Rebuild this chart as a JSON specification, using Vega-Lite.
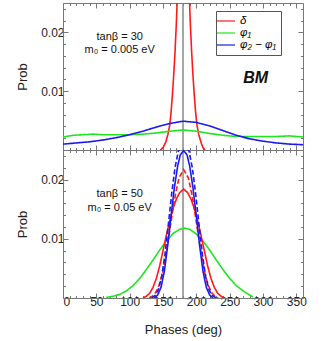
{
  "$schema": "https://vega.github.io/schema/vega-lite/v6.json",
  "padding": {"left": 16, "top": 2, "right": 5, "bottom": 3},
  "config": {
    "font": "Liberation Sans",
    "view": {"stroke": null},
    "axis": {"grid": false, "domainColor": "#777", "tickColor": "#777", "labelColor": "#222", "titleColor": "#222", "titleFontWeight": "normal", "labelFontSize": 12, "titleFontSize": 13, "labelOverlap": false}
  },
  "spacing": 0,
  "bounds": "flush",
  "resolve": {"scale": {"color": "independent", "strokeDash": "independent"}, "legend": {"color": "independent", "strokeDash": "independent"}},
  "datasets": {
    "top": [
      {"deg":146,"prob":0,"series":"δ","style":"solid"},
      {"deg":150,"prob":0.0004,"series":"δ","style":"solid"},
      {"deg":154,"prob":0.0013,"series":"δ","style":"solid"},
      {"deg":157.5,"prob":0.0027,"series":"δ","style":"solid"},
      {"deg":160,"prob":0.0042,"series":"δ","style":"solid"},
      {"deg":162,"prob":0.0063,"series":"δ","style":"solid"},
      {"deg":164,"prob":0.0092,"series":"δ","style":"solid"},
      {"deg":166,"prob":0.0126,"series":"δ","style":"solid"},
      {"deg":168,"prob":0.0166,"series":"δ","style":"solid"},
      {"deg":170,"prob":0.0215,"series":"δ","style":"solid"},
      {"deg":172,"prob":0.0275,"series":"δ","style":"solid"},
      {"deg":175,"prob":0.036,"series":"δ","style":"solid"},
      {"deg":180.5,"prob":0.042,"series":"δ","style":"solid"},
      {"deg":186,"prob":0.036,"series":"δ","style":"solid"},
      {"deg":189,"prob":0.0275,"series":"δ","style":"solid"},
      {"deg":191,"prob":0.0215,"series":"δ","style":"solid"},
      {"deg":193,"prob":0.0166,"series":"δ","style":"solid"},
      {"deg":195,"prob":0.0126,"series":"δ","style":"solid"},
      {"deg":197,"prob":0.0092,"series":"δ","style":"solid"},
      {"deg":199,"prob":0.0063,"series":"δ","style":"solid"},
      {"deg":201,"prob":0.0042,"series":"δ","style":"solid"},
      {"deg":203.5,"prob":0.0027,"series":"δ","style":"solid"},
      {"deg":207,"prob":0.0013,"series":"δ","style":"solid"},
      {"deg":210,"prob":0.0004,"series":"δ","style":"solid"},
      {"deg":213,"prob":0,"series":"δ","style":"solid"},
      {"deg":0,"prob":0.0022,"series":"φ₁","style":"solid"},
      {"deg":15,"prob":0.0025,"series":"φ₁","style":"solid"},
      {"deg":30,"prob":0.0026,"series":"φ₁","style":"solid"},
      {"deg":45,"prob":0.0027,"series":"φ₁","style":"solid"},
      {"deg":60,"prob":0.0026,"series":"φ₁","style":"solid"},
      {"deg":80,"prob":0.0026,"series":"φ₁","style":"solid"},
      {"deg":100,"prob":0.0026,"series":"φ₁","style":"solid"},
      {"deg":120,"prob":0.0027,"series":"φ₁","style":"solid"},
      {"deg":140,"prob":0.0029,"series":"φ₁","style":"solid"},
      {"deg":160,"prob":0.0032,"series":"φ₁","style":"solid"},
      {"deg":180,"prob":0.0034,"series":"φ₁","style":"solid"},
      {"deg":200,"prob":0.0032,"series":"φ₁","style":"solid"},
      {"deg":220,"prob":0.0028,"series":"φ₁","style":"solid"},
      {"deg":240,"prob":0.0025,"series":"φ₁","style":"solid"},
      {"deg":260,"prob":0.0023,"series":"φ₁","style":"solid"},
      {"deg":280,"prob":0.0023,"series":"φ₁","style":"solid"},
      {"deg":300,"prob":0.0023,"series":"φ₁","style":"solid"},
      {"deg":320,"prob":0.0023,"series":"φ₁","style":"solid"},
      {"deg":340,"prob":0.0024,"series":"φ₁","style":"solid"},
      {"deg":360,"prob":0.0022,"series":"φ₁","style":"solid"},
      {"deg":0,"prob":0.0010,"series":"φ₂ − φ₁","style":"solid"},
      {"deg":20,"prob":0.0012,"series":"φ₂ − φ₁","style":"solid"},
      {"deg":40,"prob":0.0014,"series":"φ₂ − φ₁","style":"solid"},
      {"deg":60,"prob":0.0017,"series":"φ₂ − φ₁","style":"solid"},
      {"deg":80,"prob":0.0021,"series":"φ₂ − φ₁","style":"solid"},
      {"deg":100,"prob":0.0026,"series":"φ₂ − φ₁","style":"solid"},
      {"deg":120,"prob":0.0032,"series":"φ₂ − φ₁","style":"solid"},
      {"deg":140,"prob":0.0039,"series":"φ₂ − φ₁","style":"solid"},
      {"deg":160,"prob":0.0045,"series":"φ₂ − φ₁","style":"solid"},
      {"deg":180,"prob":0.0049,"series":"φ₂ − φ₁","style":"solid"},
      {"deg":200,"prob":0.0047,"series":"φ₂ − φ₁","style":"solid"},
      {"deg":220,"prob":0.0041,"series":"φ₂ − φ₁","style":"solid"},
      {"deg":240,"prob":0.0033,"series":"φ₂ − φ₁","style":"solid"},
      {"deg":260,"prob":0.0025,"series":"φ₂ − φ₁","style":"solid"},
      {"deg":280,"prob":0.0019,"series":"φ₂ − φ₁","style":"solid"},
      {"deg":300,"prob":0.0015,"series":"φ₂ − φ₁","style":"solid"},
      {"deg":320,"prob":0.0012,"series":"φ₂ − φ₁","style":"solid"},
      {"deg":340,"prob":0.0010,"series":"φ₂ − φ₁","style":"solid"},
      {"deg":360,"prob":0.0009,"series":"φ₂ − φ₁","style":"solid"}
    ],
    "bottom": [
      {"deg":65,"prob":0.0001,"series":"φ₁","style":"solid"},
      {"deg":75,"prob":0.0003,"series":"φ₁","style":"solid"},
      {"deg":85,"prob":0.0006,"series":"φ₁","style":"solid"},
      {"deg":95,"prob":0.0012,"series":"φ₁","style":"solid"},
      {"deg":105,"prob":0.0021,"series":"φ₁","style":"solid"},
      {"deg":115,"prob":0.0033,"series":"φ₁","style":"solid"},
      {"deg":125,"prob":0.0048,"series":"φ₁","style":"solid"},
      {"deg":135,"prob":0.0064,"series":"φ₁","style":"solid"},
      {"deg":145,"prob":0.0081,"series":"φ₁","style":"solid"},
      {"deg":155,"prob":0.0096,"series":"φ₁","style":"solid"},
      {"deg":165,"prob":0.0109,"series":"φ₁","style":"solid"},
      {"deg":175,"prob":0.0116,"series":"φ₁","style":"solid"},
      {"deg":182,"prob":0.0118,"series":"φ₁","style":"solid"},
      {"deg":190,"prob":0.0116,"series":"φ₁","style":"solid"},
      {"deg":200,"prob":0.0108,"series":"φ₁","style":"solid"},
      {"deg":210,"prob":0.0096,"series":"φ₁","style":"solid"},
      {"deg":220,"prob":0.0081,"series":"φ₁","style":"solid"},
      {"deg":230,"prob":0.0064,"series":"φ₁","style":"solid"},
      {"deg":240,"prob":0.0048,"series":"φ₁","style":"solid"},
      {"deg":250,"prob":0.0033,"series":"φ₁","style":"solid"},
      {"deg":260,"prob":0.0021,"series":"φ₁","style":"solid"},
      {"deg":270,"prob":0.0012,"series":"φ₁","style":"solid"},
      {"deg":280,"prob":0.0005,"series":"φ₁","style":"solid"},
      {"deg":285,"prob":0.0002,"series":"φ₁","style":"solid"},
      {"deg":120,"prob":0,"series":"δ","style":"solid"},
      {"deg":125,"prob":0.0003,"series":"δ","style":"solid"},
      {"deg":130,"prob":0.0008,"series":"δ","style":"solid"},
      {"deg":135,"prob":0.0018,"series":"δ","style":"solid"},
      {"deg":140,"prob":0.0033,"series":"δ","style":"solid"},
      {"deg":145,"prob":0.0054,"series":"δ","style":"solid"},
      {"deg":150,"prob":0.0080,"series":"δ","style":"solid"},
      {"deg":155,"prob":0.0106,"series":"δ","style":"solid"},
      {"deg":160,"prob":0.0130,"series":"δ","style":"solid"},
      {"deg":165,"prob":0.0151,"series":"δ","style":"solid"},
      {"deg":170,"prob":0.0167,"series":"δ","style":"solid"},
      {"deg":175,"prob":0.0178,"series":"δ","style":"solid"},
      {"deg":181,"prob":0.0184,"series":"δ","style":"solid"},
      {"deg":187,"prob":0.0178,"series":"δ","style":"solid"},
      {"deg":192,"prob":0.0167,"series":"δ","style":"solid"},
      {"deg":197,"prob":0.0151,"series":"δ","style":"solid"},
      {"deg":202,"prob":0.0130,"series":"δ","style":"solid"},
      {"deg":207,"prob":0.0106,"series":"δ","style":"solid"},
      {"deg":212,"prob":0.0080,"series":"δ","style":"solid"},
      {"deg":217,"prob":0.0054,"series":"δ","style":"solid"},
      {"deg":222,"prob":0.0033,"series":"δ","style":"solid"},
      {"deg":227,"prob":0.0018,"series":"δ","style":"solid"},
      {"deg":232,"prob":0.0008,"series":"δ","style":"solid"},
      {"deg":237,"prob":0.0003,"series":"δ","style":"solid"},
      {"deg":242,"prob":0,"series":"δ","style":"solid"},
      {"deg":129,"prob":0,"series":"δ","style":"dashed"},
      {"deg":134,"prob":0.0003,"series":"δ","style":"dashed"},
      {"deg":139,"prob":0.0009,"series":"δ","style":"dashed"},
      {"deg":144,"prob":0.0021,"series":"δ","style":"dashed"},
      {"deg":149,"prob":0.0041,"series":"δ","style":"dashed"},
      {"deg":154,"prob":0.0071,"series":"δ","style":"dashed"},
      {"deg":159,"prob":0.0106,"series":"δ","style":"dashed"},
      {"deg":164,"prob":0.0143,"series":"δ","style":"dashed"},
      {"deg":169,"prob":0.0177,"series":"δ","style":"dashed"},
      {"deg":174,"prob":0.0203,"series":"δ","style":"dashed"},
      {"deg":181,"prob":0.0217,"series":"δ","style":"dashed"},
      {"deg":188,"prob":0.0203,"series":"δ","style":"dashed"},
      {"deg":193,"prob":0.0177,"series":"δ","style":"dashed"},
      {"deg":198,"prob":0.0143,"series":"δ","style":"dashed"},
      {"deg":203,"prob":0.0106,"series":"δ","style":"dashed"},
      {"deg":208,"prob":0.0071,"series":"δ","style":"dashed"},
      {"deg":213,"prob":0.0041,"series":"δ","style":"dashed"},
      {"deg":218,"prob":0.0021,"series":"δ","style":"dashed"},
      {"deg":223,"prob":0.0009,"series":"δ","style":"dashed"},
      {"deg":228,"prob":0.0003,"series":"δ","style":"dashed"},
      {"deg":233,"prob":0,"series":"δ","style":"dashed"},
      {"deg":137,"prob":0,"series":"φ₂ − φ₁","style":"solid"},
      {"deg":142,"prob":0.0005,"series":"φ₂ − φ₁","style":"solid"},
      {"deg":147,"prob":0.0018,"series":"φ₂ − φ₁","style":"solid"},
      {"deg":152,"prob":0.0045,"series":"φ₂ − φ₁","style":"solid"},
      {"deg":157,"prob":0.0088,"series":"φ₂ − φ₁","style":"solid"},
      {"deg":162,"prob":0.0138,"series":"φ₂ − φ₁","style":"solid"},
      {"deg":167,"prob":0.0186,"series":"φ₂ − φ₁","style":"solid"},
      {"deg":172,"prob":0.0223,"series":"φ₂ − φ₁","style":"solid"},
      {"deg":176,"prob":0.0242,"series":"φ₂ − φ₁","style":"solid"},
      {"deg":181,"prob":0.0249,"series":"φ₂ − φ₁","style":"solid"},
      {"deg":186,"prob":0.0242,"series":"φ₂ − φ₁","style":"solid"},
      {"deg":190,"prob":0.0223,"series":"φ₂ − φ₁","style":"solid"},
      {"deg":195,"prob":0.0186,"series":"φ₂ − φ₁","style":"solid"},
      {"deg":200,"prob":0.0138,"series":"φ₂ − φ₁","style":"solid"},
      {"deg":205,"prob":0.0088,"series":"φ₂ − φ₁","style":"solid"},
      {"deg":210,"prob":0.0045,"series":"φ₂ − φ₁","style":"solid"},
      {"deg":215,"prob":0.0018,"series":"φ₂ − φ₁","style":"solid"},
      {"deg":220,"prob":0.0005,"series":"φ₂ − φ₁","style":"solid"},
      {"deg":225,"prob":0,"series":"φ₂ − φ₁","style":"solid"},
      {"deg":133,"prob":0,"series":"φ₂ − φ₁","style":"dashed"},
      {"deg":138,"prob":0.0004,"series":"φ₂ − φ₁","style":"dashed"},
      {"deg":143,"prob":0.0014,"series":"φ₂ − φ₁","style":"dashed"},
      {"deg":148,"prob":0.0036,"series":"φ₂ − φ₁","style":"dashed"},
      {"deg":153,"prob":0.0074,"series":"φ₂ − φ₁","style":"dashed"},
      {"deg":158,"prob":0.0124,"series":"φ₂ − φ₁","style":"dashed"},
      {"deg":163,"prob":0.0176,"series":"φ₂ − φ₁","style":"dashed"},
      {"deg":168,"prob":0.0220,"series":"φ₂ − φ₁","style":"dashed"},
      {"deg":173,"prob":0.0248,"series":"φ₂ − φ₁","style":"dashed"},
      {"deg":178,"prob":0.0258,"series":"φ₂ − φ₁","style":"dashed"},
      {"deg":184,"prob":0.0258,"series":"φ₂ − φ₁","style":"dashed"},
      {"deg":189,"prob":0.0248,"series":"φ₂ − φ₁","style":"dashed"},
      {"deg":194,"prob":0.0220,"series":"φ₂ − φ₁","style":"dashed"},
      {"deg":199,"prob":0.0176,"series":"φ₂ − φ₁","style":"dashed"},
      {"deg":204,"prob":0.0124,"series":"φ₂ − φ₁","style":"dashed"},
      {"deg":209,"prob":0.0074,"series":"φ₂ − φ₁","style":"dashed"},
      {"deg":214,"prob":0.0036,"series":"φ₂ − φ₁","style":"dashed"},
      {"deg":219,"prob":0.0014,"series":"φ₂ − φ₁","style":"dashed"},
      {"deg":224,"prob":0.0004,"series":"φ₂ − φ₁","style":"dashed"},
      {"deg":230,"prob":0,"series":"φ₂ − φ₁","style":"dashed"}
    ],
    "notesTop": [
      {"deg":85,"prob":0.0192,"label":"tanβ = 30"},
      {"deg":85,"prob":0.0170,"label":"m₀ = 0.005 eV"}
    ],
    "notesBottom": [
      {"deg":85,"prob":0.0176,"label":"tanβ = 50"},
      {"deg":85,"prob":0.0152,"label":"m₀ = 0.05 eV"}
    ],
    "bm": [{"deg":289,"prob":0.0123,"label":"BM"}],
    "mid": [{"deg":180}]
  },
  "vconcat": [
    {
      "width": 240, "height": 147,
      "resolve": {"axis": {"x": "independent", "y": "independent"}},
      "layer": [
        {
          "data": {"name": "mid"},
          "mark": {"type": "rule", "color": "#888", "strokeWidth": 1.5},
          "encoding": {
            "x": {"field": "deg", "type": "quantitative", "scale": {"domain": [0, 360], "nice": false, "zero": false},
              "axis": {"orient": "top", "values": [0,10,20,30,40,50,60,70,80,90,100,110,120,130,140,150,160,170,180,190,200,210,220,230,240,250,260,270,280,290,300,310,320,330,340,350], "tickSize": {"condition": {"test": "datum.value % 50 === 0", "value": -5}, "value": -2.5}, "labels": false, "title": null}}
          }
        },
        {
          "data": {"name": "top"},
          "mark": {"type": "line", "clip": true, "strokeWidth": 1.6},
          "encoding": {
            "x": {"field": "deg", "type": "quantitative", "scale": {"domain": [0, 360], "nice": false, "zero": false},
              "axis": {"orient": "bottom", "values": [0,10,20,30,40,50,60,70,80,90,100,110,120,130,140,150,160,170,180,190,200,210,220,230,240,250,260,270,280,290,300,310,320,330,340,350], "tickSize": {"condition": {"test": "datum.value % 50 === 0", "value": -5}, "value": -2.5}, "labels": false, "title": null}},
            "y": {"field": "prob", "type": "quantitative", "scale": {"domain": [0, 0.025], "nice": false},
              "axis": {"orient": "left", "values": [0,0.002,0.004,0.006,0.008,0.01,0.012,0.014,0.016,0.018,0.02,0.022,0.024], "tickSize": {"condition": {"test": "abs(datum.value*100 - round(datum.value*100)) < 0.001", "value": -5}, "value": -2.5}, "labelPadding": 4, "format": ".2f", "labelExpr": "datum.value > 0.005 && abs(datum.value*100 - round(datum.value*100)) < 0.001 ? datum.label : ''", "title": "Prob", "titlePadding": 11}},
            "color": {"field": "series", "type": "nominal", "scale": {"domain": ["δ", "φ₁", "φ₂ − φ₁"], "range": ["#ff1a1a", "#1ee61e", "#1a1aee"]},
              "legend": {"orient": "none", "legendX": 153, "legendY": 8, "title": null, "strokeColor": "#555", "fillColor": "white", "padding": 4, "symbolType": "M-1.8,0H1.8", "symbolSize": 100, "symbolStrokeWidth": 1.2, "labelFontSize": 11.5, "labelFontStyle": "italic", "rowPadding": 0, "labelOffset": 8}},
            "strokeDash": {"field": "style", "type": "nominal", "scale": {"domain": ["solid", "dashed"], "range": [[1, 0], [5, 2.5]]}, "legend": null}
          }
        },
        {
          "data": {"name": "notesTop"},
          "mark": {"type": "text", "fontSize": 11, "color": "#111", "align": "center", "baseline": "middle"},
          "encoding": {
            "x": {"field": "deg", "type": "quantitative", "scale": {"domain": [0, 360], "nice": false, "zero": false}, "axis": null},
            "y": {"field": "prob", "type": "quantitative", "scale": {"domain": [0, 0.025], "nice": false},
              "axis": {"orient": "right", "values": [0,0.002,0.004,0.006,0.008,0.01,0.012,0.014,0.016,0.018,0.02,0.022,0.024], "tickSize": {"condition": {"test": "abs(datum.value*100 - round(datum.value*100)) < 0.001", "value": -5}, "value": -2.5}, "labels": false, "title": null}},
            "text": {"field": "label"}
          }
        },
        {
          "data": {"name": "bm"},
          "mark": {"type": "text", "fontSize": 16, "fontWeight": "bold", "fontStyle": "italic", "color": "#111", "align": "center", "baseline": "middle"},
          "encoding": {
            "x": {"field": "deg", "type": "quantitative", "scale": {"domain": [0, 360], "nice": false, "zero": false}, "axis": null},
            "y": {"field": "prob", "type": "quantitative", "scale": {"domain": [0, 0.025], "nice": false}, "axis": null},
            "text": {"field": "label"}
          }
        }
      ]
    },
    {
      "width": 240, "height": 148,
      "resolve": {"axis": {"x": "independent", "y": "independent"}},
      "layer": [
        {
          "data": {"name": "mid"},
          "mark": {"type": "rule", "color": "#888", "strokeWidth": 1.5},
          "encoding": {
            "x": {"field": "deg", "type": "quantitative", "scale": {"domain": [0, 360], "nice": false, "zero": false},
              "axis": {"orient": "top", "values": [0,10,20,30,40,50,60,70,80,90,100,110,120,130,140,150,160,170,180,190,200,210,220,230,240,250,260,270,280,290,300,310,320,330,340,350], "tickSize": {"condition": {"test": "datum.value % 50 === 0", "value": -5}, "value": -2.5}, "labels": false, "title": null}}
          }
        },
        {
          "data": {"name": "bottom"},
          "mark": {"type": "line", "clip": true, "strokeWidth": 1.6},
          "encoding": {
            "x": {"field": "deg", "type": "quantitative", "scale": {"domain": [0, 360], "nice": false, "zero": false},
              "axis": {"orient": "bottom", "values": [0,10,20,30,40,50,60,70,80,90,100,110,120,130,140,150,160,170,180,190,200,210,220,230,240,250,260,270,280,290,300,310,320,330,340,350], "tickSize": {"condition": {"test": "datum.value % 50 === 0", "value": -5}, "value": -2.5}, "labelPadding": 3, "labelExpr": "datum.value % 50 === 0 ? datum.label : ''", "title": "Phases (deg)", "titlePadding": 14}},
            "y": {"field": "prob", "type": "quantitative", "scale": {"domain": [0, 0.025], "nice": false},
              "axis": {"orient": "left", "values": [0,0.002,0.004,0.006,0.008,0.01,0.012,0.014,0.016,0.018,0.02,0.022,0.024], "tickSize": {"condition": {"test": "abs(datum.value*100 - round(datum.value*100)) < 0.001", "value": -5}, "value": -2.5}, "labelPadding": 4, "format": ".2f", "labelExpr": "datum.value > 0.005 && abs(datum.value*100 - round(datum.value*100)) < 0.001 ? datum.label : ''", "title": "Prob", "titlePadding": 11}},
            "color": {"field": "series", "type": "nominal", "scale": {"domain": ["δ", "φ₁", "φ₂ − φ₁"], "range": ["#ff1a1a", "#1ee61e", "#1a1aee"]}, "legend": null},
            "strokeDash": {"field": "style", "type": "nominal", "scale": {"domain": ["solid", "dashed"], "range": [[1, 0], [5, 2.5]]}, "legend": null}
          }
        },
        {
          "data": {"name": "notesBottom"},
          "mark": {"type": "text", "fontSize": 11, "color": "#111", "align": "center", "baseline": "middle"},
          "encoding": {
            "x": {"field": "deg", "type": "quantitative", "scale": {"domain": [0, 360], "nice": false, "zero": false}, "axis": null},
            "y": {"field": "prob", "type": "quantitative", "scale": {"domain": [0, 0.025], "nice": false},
              "axis": {"orient": "right", "values": [0,0.002,0.004,0.006,0.008,0.01,0.012,0.014,0.016,0.018,0.02,0.022,0.024], "tickSize": {"condition": {"test": "abs(datum.value*100 - round(datum.value*100)) < 0.001", "value": -5}, "value": -2.5}, "labels": false, "title": null}},
            "text": {"field": "label"}
          }
        }
      ]
    }
  ]
}
